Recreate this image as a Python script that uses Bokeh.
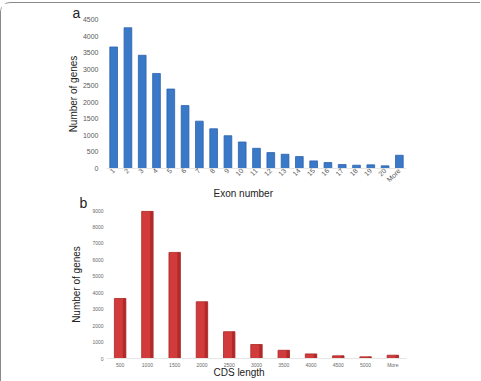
import math
from bokeh.plotting import figure
from bokeh.layouts import column
from bokeh.models import FixedTicker, Title, ColumnDataSource
from bokeh.transform import dodge
from bokeh.embed import file_html
from bokeh.resources import INLINE

# Panel a: distribution of exon number per gene
exon_cats = [str(i) for i in range(1, 21)] + ["More"]
exon_counts = [3670, 4250, 3420, 2870, 2400, 1900, 1430, 1200, 990, 800,
               610, 480, 430, 360, 230, 180, 120, 100, 110, 80, 400]
exon_ticks = list(range(0, 5000, 500))

# Panel b: distribution of CDS length per gene
cds_cats = ["500", "1000", "1500", "2000", "2500", "3000", "3500",
            "4000", "4500", "5000", "More"]
cds_counts = [3650, 8950, 6450, 3450, 1630, 850, 500, 280, 160, 100, 200]
cds_ticks = list(range(0, 10000, 1000))

FONT = "Liberation Sans"
TITLE_SIZE = "10px"


def style_axes(p, tick_size, tick_color, y_standoff, y_label_standoff):
    p.xgrid.visible = False
    p.ygrid.visible = False
    p.outline_line_color = None
    p.yaxis.axis_line_color = None
    for ax in (p.xaxis, p.yaxis):
        ax.major_tick_line_color = None
        ax.minor_tick_line_color = None
        ax.major_tick_out = 0
        ax.major_tick_in = 0
        ax.major_label_text_font_size = tick_size
        ax.major_label_text_color = tick_color
        ax.major_label_text_font = FONT
        ax.axis_label_text_font = FONT
        ax.axis_label_text_font_size = TITLE_SIZE
        ax.axis_label_text_font_style = "normal"
        ax.axis_label_text_color = "#222222"
    p.xaxis.axis_line_color = "#e6e6e6"
    p.yaxis.major_label_standoff = y_standoff
    p.yaxis.axis_label_standoff = y_label_standoff


def add_title(p, text, side, size, offset, standoff):
    p.add_layout(Title(text=text, align="left", offset=offset,
                       standoff=standoff, text_font=FONT,
                       text_font_size=size, text_font_style="normal",
                       text_color="#222222"),
                 side)


# ---- panel a ----
src_a = ColumnDataSource(dict(cat=exon_cats, n=exon_counts))
pa = figure(x_range=exon_cats, y_range=(0, 4500), width=479, height=185,
            output_backend="svg", toolbar_location=None,
            min_border_left=105, min_border_right=74,
            min_border_top=16, min_border_bottom=10,
            background_fill_color="white", border_fill_color="white")
pa.x_range.range_padding = 0
pa.vbar(x="cat", top="n", width=0.54, source=src_a,
        fill_color="#3a78c8", line_color="#2d63ad", line_width=0.8)
style_axes(pa, "7px", "#595959", 8, 1)
pa.yaxis.ticker = FixedTicker(ticks=exon_ticks)
pa.xaxis.major_label_orientation = math.pi / 4
pa.xaxis.major_label_standoff = 1
pa.yaxis.axis_label = "Number of genes"
add_title(pa, "a", "above", "14px", -34, -2)

# ---- panel b ----
src_b = ColumnDataSource(dict(cat=cds_cats, n=cds_counts))
pb = figure(x_range=cds_cats, y_range=(0, 9000), width=479, height=193,
            output_backend="svg", toolbar_location=None,
            min_border_left=98, min_border_right=72,
            min_border_top=22, min_border_bottom=23,
            background_fill_color="white", border_fill_color="white")
pb.x_range.range_padding = 0
pb.vbar(x="cat", top="n", width=0.42, source=src_b,
        fill_color="#d23b3b", line_color="#a82626", line_width=0.8)
# darker right-hand face of each bar
pb.vbar(x=dodge("cat", 0.15, range=pb.x_range), top="n", width=0.1,
        source=src_b, fill_color="#b02a2a", line_color=None)
style_axes(pb, "5px", "#6a6a6a", 3, 7)
pb.yaxis.ticker = FixedTicker(ticks=cds_ticks)
pb.xaxis.major_label_standoff = 3
pb.yaxis.axis_label = "Number of genes"
add_title(pb, "b", "above", "14px", -27, 0)
# x-axis title of panel a sits in the gap between the two panels
add_title(pb, "Exon number", "above", TITLE_SIZE, 107, -13)
add_title(pb, "CDS length", "below", TITLE_SIZE, 107, -14)

page = column(pa, pb, spacing=0,
              styles={"border-top": "1.5px solid #8a8a8a",
                      "border-left": "1.5px solid #8a8a8a",
                      "border-top-left-radius": "10px",
                      "margin-top": "2px"})

open("out.html", "w").write(file_html(page, INLINE))
